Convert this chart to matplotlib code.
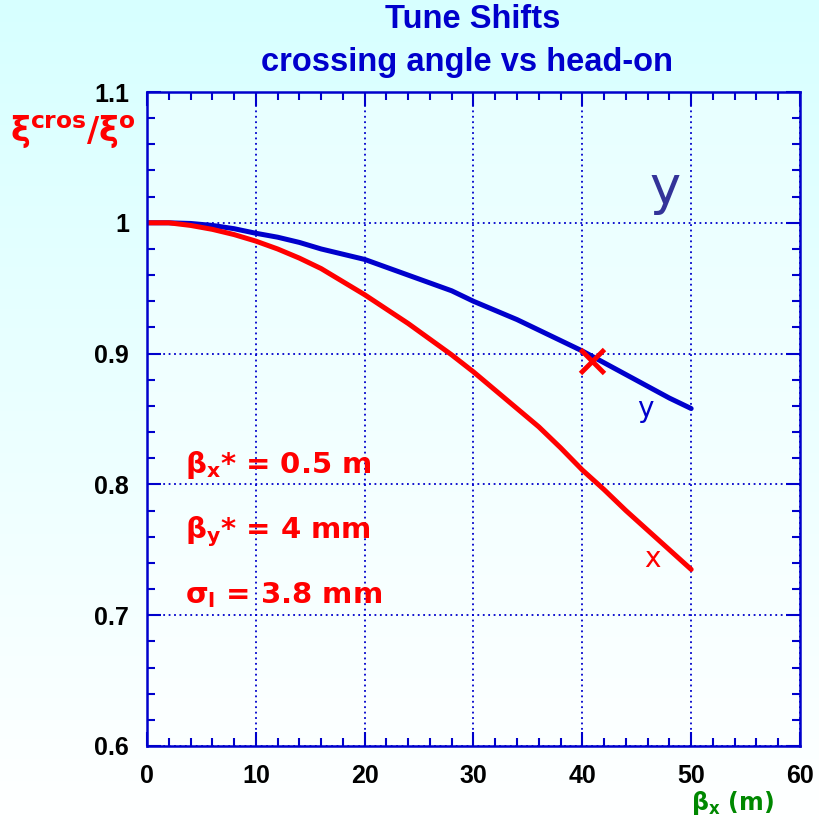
import numpy as np
import matplotlib
matplotlib.use('Agg')
import matplotlib.pyplot as plt

# beta_x (m) sample points and tune shift ratio for both planes
beta_x = [0, 2, 4, 6, 8, 10, 12, 14, 16, 18, 20, 22, 24, 26, 28, 30,
          32, 34, 36, 38, 40, 42, 44, 46, 48, 50]
ratio_y = [1.000, 1.000, 0.9995, 0.998, 0.9955, 0.992, 0.989, 0.985, 0.980,
           0.976, 0.972, 0.966, 0.960, 0.954, 0.948, 0.940, 0.933, 0.926,
           0.918, 0.910, 0.902, 0.893, 0.884, 0.875, 0.866, 0.858]
ratio_x = [1.000, 1.000, 0.998, 0.995, 0.991, 0.986, 0.980, 0.973, 0.965,
           0.955, 0.945, 0.934, 0.923, 0.911, 0.899, 0.886, 0.872, 0.858,
           0.844, 0.828, 0.811, 0.796, 0.780, 0.765, 0.750, 0.735]

# single measured point
cross_point = (40.9, 0.894)

x_ticks = [0, 10, 20, 30, 40, 50, 60]
y_ticks = [0.6, 0.7, 0.8, 0.9, 1.0, 1.1]
y_tick_labels = ['0.6', '0.7', '0.8', '0.9', '1', '1.1']

params = [r'$\beta_{x}$* = 0.5 m', r'$\beta_{y}$* = 4 mm', r'$\sigma_{l}$ = 3.8 mm']

BLUE = '#0000CC'
RED = '#FF0000'

plt.rcParams['mathtext.fontset'] = 'dejavusans'
plt.rcParams['mathtext.default'] = 'bf'

fig = plt.figure(figsize=(8.2, 8.23), dpi=100)

# background gradient, light cyan at the top fading to white
bg = fig.add_axes([0, 0, 1, 1], zorder=-10)
grad = np.linspace(0, 1, 256).reshape(-1, 1)
cols = np.zeros((256, 1, 3))
cols[..., 0] = (215 + 40 * grad) / 255
cols[..., 1] = 1.0
cols[..., 2] = 1.0
bg.imshow(cols, aspect='auto', extent=[0, 1, 0, 1], origin='upper')
bg.axis('off')

ax = fig.add_axes([147 / 820, 77 / 823, 653 / 820, 654 / 823])
ax.patch.set_facecolor('white')
ax.patch.set_alpha(0.35)

ax.plot(beta_x, ratio_y, color=BLUE, linewidth=3.6, solid_capstyle='round')
ax.plot(beta_x, ratio_x, color=RED, linewidth=3.6, solid_capstyle='round')
ax.plot(*cross_point, marker='x', color=RED, markersize=17, markeredgewidth=3.5)

ax.set_xlim(0, 60)
ax.set_ylim(0.6, 1.1)
ax.set_xticks(x_ticks)
ax.set_xticks(np.arange(0, 61, 2), minor=True)
ax.set_yticks(y_ticks)
ax.set_yticks(np.arange(0.6, 1.1001, 0.02), minor=True)
ax.set_yticklabels(y_tick_labels)

ax.tick_params(which='both', direction='in', top=True, right=True,
               color=BLUE, width=1.5)
ax.tick_params(which='major', length=10, pad=13)
ax.tick_params(which='minor', length=6)
for lab in ax.get_xticklabels() + ax.get_yticklabels():
    lab.set_fontfamily('Liberation Sans')
    lab.set_fontweight('bold')
    lab.set_fontsize(18)
for sp in ax.spines.values():
    sp.set_color(BLUE)
    sp.set_linewidth(1.8)

ax.grid(True, which='major', color=BLUE, linestyle=(0, (1, 2)), linewidth=1.3)

# curve labels
ax.text(45.8, 0.858, 'y', color=BLUE, fontsize=20, ha='center', va='center')
ax.text(46.4, 0.743, 'x', color=RED, fontsize=20, ha='center', va='center')
ax.text(47.6, 1.026, 'y', color='#333399', fontsize=38, ha='center', va='center')

for i, txt in enumerate(params):
    ax.text(3.5, 0.809 - i * 0.05, txt, color=RED, fontsize=21,
            fontweight='bold', ha='left', va='baseline')

fig.text(473 / 820, 1 - 20 / 823, 'Tune Shifts', color=BLUE, fontsize=23.5,
         fontweight='bold', family='Liberation Sans', ha='center', va='center')
fig.text(467 / 820, 1 - 63 / 823, 'crossing angle vs head-on', color=BLUE,
         fontsize=23.5, fontweight='bold', family='Liberation Sans',
         ha='center', va='center')

fig.text(10 / 820, 1 - 132 / 823, r'$\xi^{cros}/\xi^{o}$', color=RED,
         fontsize=24, ha='left', va='center')
fig.text(732 / 820, 1 - 803 / 823, r'$\beta_{x}$ (m)', color='#008800',
         fontsize=17, fontweight='bold', ha='center', va='center')

fig.savefig('out.png', dpi=100)
